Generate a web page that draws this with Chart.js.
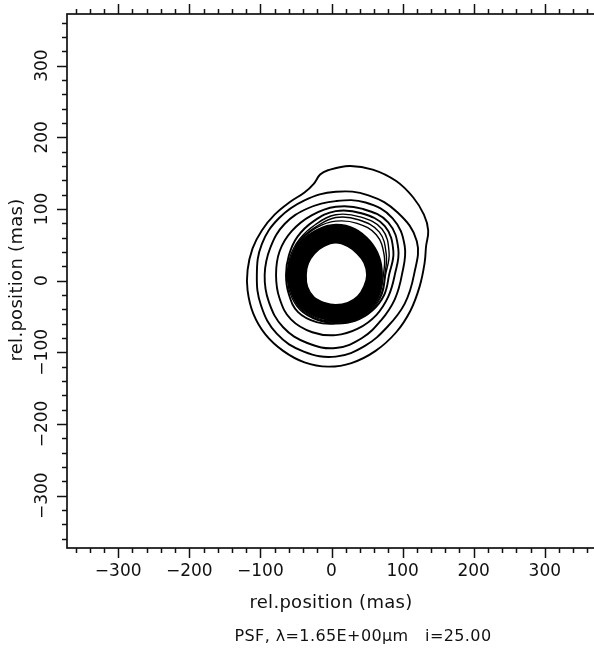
<!DOCTYPE html>
<html>
<head>
<meta charset="utf-8">
<title>PSF contours</title>
<script src="https://cdn.jsdelivr.net/npm/chart.js@4.4.1/dist/chart.umd.min.js"></script>
<style>
  html, body { margin: 0; padding: 0; background: #fff; overflow: hidden; }
  canvas { display: block; }
</style>
</head>
<body>
<canvas id="psfChart" width="600" height="651"></canvas>
<script>
// tick labels (mas)
const xTicks = [-300, -200, -100, 0, 100, 200, 300];
const yTicks = [-300, -200, -100, 0, 100, 200, 300];

// contour lines, [x, y] in mas, outermost first
const contour1 = [[-5,154],[25,160],[58,155],[91,139],[115,116],[130,92],[136,70],[133,48],[131,25],[124,-8],[111,-42],[91,-72],[62,-98],[28,-115],[-5,-120],[-38,-114],[-68,-98],[-93,-75],[-110,-46],[-118,-14],[-118,15],[-111,45],[-98,70],[-80,92],[-58,110],[-38,123],[-25,135],[-16,148]];
const contour2 = [[116,8],[120,55],[93,95],[52,119],[6,124],[-38,112],[-74,87],[-98,51],[-105,8],[-99,-35],[-77,-74],[-39,-99],[6,-106],[47,-91],[79,-64],[103,-32]];
const contour3 = [[99,8],[103,48],[86,87],[48,109],[6,111],[-33,101],[-66,79],[-86,46],[-94,8],[-88,-30],[-68,-65],[-34,-87],[6,-94],[43,-80],[70,-55],[89,-26]];
const contour4 = [[89,8],[94,44],[80,81],[44,100],[6,103],[-28,91],[-56,69],[-73,41],[-78,8],[-73,-25],[-57,-54],[-27,-72],[6,-76],[37,-67],[63,-48],[80,-22]];
const contour5 = [[81,8],[87,41],[75,76],[42,94],[6,97],[-25,83],[-48,61],[-60,35],[-64,8],[-60,-19],[-47,-44],[-21,-58],[6,-60],[33,-56],[57,-42],[74,-20]];
// lines fanning out of the dense ring at upper right
const band1 = [[76,8],[81,39],[71,72],[40,89],[6,92],[-23,78],[-45,58],[-58,34],[-62,8],[-58,-18],[-44,-41],[-20,-55],[6,-59],[32,-55],[56,-41],[71,-19]];
const band2 = [[75,8],[77,37],[67,68],[38,85],[6,88],[-22,75],[-44,57],[-56,34],[-61,8],[-56,-18],[-43,-40],[-20,-54],[6,-58],[32,-54],[55,-40],[70,-18]];
const band3 = [[73,8],[74,36],[63,64],[36,80],[6,83],[-21,74],[-43,56],[-56,34],[-61,8],[-56,-18],[-42,-39],[-19,-53],[6,-57],[32,-53],[54,-40],[68,-18]];
// outer edge of the dense ring of contours
const bandEdge = [[71,8],[67,33],[54,55],[33,72],[6,78],[-20,71],[-42,55],[-55,33],[-60,8],[-55,-17],[-41,-38],[-19,-51],[6,-56],[31,-53],[54,-39],[67,-17]];
// highest contour, the peak inside it is left white
const holeEdge = [[50,8],[46,25],[36,38],[23,48],[6,53],[-11,48],[-24,38],[-33,24],[-36,8],[-34,-9],[-25,-23],[-10,-31],[6,-34],[23,-31],[37,-22],[46,-8]];

const axisTitle = "rel.position (mas)";
const caption = "PSF, \u03bb=1.65E+00\u03bcm   i=25.00";

function toPoints(arr) {
    return arr.map(p => ({ x: p[0], y: p[1] }));
}

function ring(arr, extra) {
    return Object.assign({
        data: toPoints(arr),
        showLine: true,
        borderColor: "#000",
        borderWidth: 1.9,
        pointRadius: 0,
        tension: 0.4,
        fill: false
    }, extra || {});
}

// contour lines are closed curves
const closeLoops = {
    id: "closeLoops",
    afterDatasetsUpdate(chart) {
        chart.data.datasets.forEach((ds, i) => {
            const line = chart.getDatasetMeta(i).dataset;
            if (line) {
                line._loop = true;
                line._fullLoop = true;
            }
        });
    }
};

// frame, ticks and labels like the original plot
const frame = {
    id: "frame",
    afterDraw(chart) {
        const ctx = chart.ctx;
        const a = chart.chartArea;
        const xs = chart.scales.x;
        const ys = chart.scales.y;

        ctx.save();
        ctx.strokeStyle = "#111";
        ctx.lineWidth = 1.7;
        ctx.strokeRect(a.left, a.top, a.right - a.left, a.bottom - a.top);

        ctx.lineWidth = 1.5;
        ctx.beginPath();
        for (let v = -360; v <= 360; v += 20) {
            const len = v % 100 === 0 ? 10 : 5;
            const px = Math.round(xs.getPixelForValue(v)) + 0.5;
            ctx.moveTo(px, a.top); ctx.lineTo(px, a.top - len);
            ctx.moveTo(px, a.bottom); ctx.lineTo(px, a.bottom + len);
            const py = Math.round(ys.getPixelForValue(v)) + 0.5;
            ctx.moveTo(a.left, py); ctx.lineTo(a.left - len, py);
            ctx.moveTo(a.right, py); ctx.lineTo(a.right + len, py);
        }
        ctx.stroke();

        ctx.fillStyle = "#111";
        ctx.font = '17px "DejaVu Sans"';
        ctx.textAlign = "center";
        ctx.textBaseline = "middle";
        const fmt = v => (v < 0 ? "\u2212" + Math.abs(v) : String(v));
        xTicks.forEach(v => {
            ctx.fillText(fmt(v), xs.getPixelForValue(v), 572);
        });
        yTicks.forEach(v => {
            ctx.save();
            ctx.translate(43, ys.getPixelForValue(v));
            ctx.rotate(-Math.PI / 2);
            ctx.fillText(fmt(v), 0, 0);
            ctx.restore();
        });

        ctx.font = '18px "DejaVu Sans"';
        ctx.letterSpacing = "0.3px";
        ctx.fillText(axisTitle, 331, 603);
        ctx.save();
        ctx.translate(17, 280);
        ctx.rotate(-Math.PI / 2);
        ctx.fillText(axisTitle, 0, 0);
        ctx.restore();

        ctx.font = '16px "DejaVu Sans"';
        ctx.letterSpacing = "0.4px";
        ctx.fillText(caption, 363, 637);
        ctx.restore();
    }
};

const datasets = [
    ring(holeEdge, { fill: "shape", backgroundColor: "#fff" }),
    ring(bandEdge, { fill: "shape", backgroundColor: "#000" }),
    ring(band3, { borderWidth: 1.4 }),
    ring(band2, { borderWidth: 1.4 }),
    ring(band1, { borderWidth: 1.4 }),
    ring(contour5),
    ring(contour4),
    ring(contour3),
    ring(contour2),
    ring(contour1)
];

new Chart(document.getElementById("psfChart"), {
    type: "scatter",
    data: { datasets: datasets },
    options: {
        responsive: false,
        animation: false,
        layout: { padding: { left: 67, top: 14, right: 4, bottom: 103 } },
        scales: {
            x: { type: "linear", min: -372, max: 372, display: false },
            y: { type: "linear", min: -373, max: 372, display: false }
        },
        plugins: {
            legend: { display: false },
            tooltip: { enabled: false },
            filler: { drawTime: "beforeDatasetDraw" }
        }
    },
    plugins: [closeLoops, frame]
});
</script>
</body>
</html>
